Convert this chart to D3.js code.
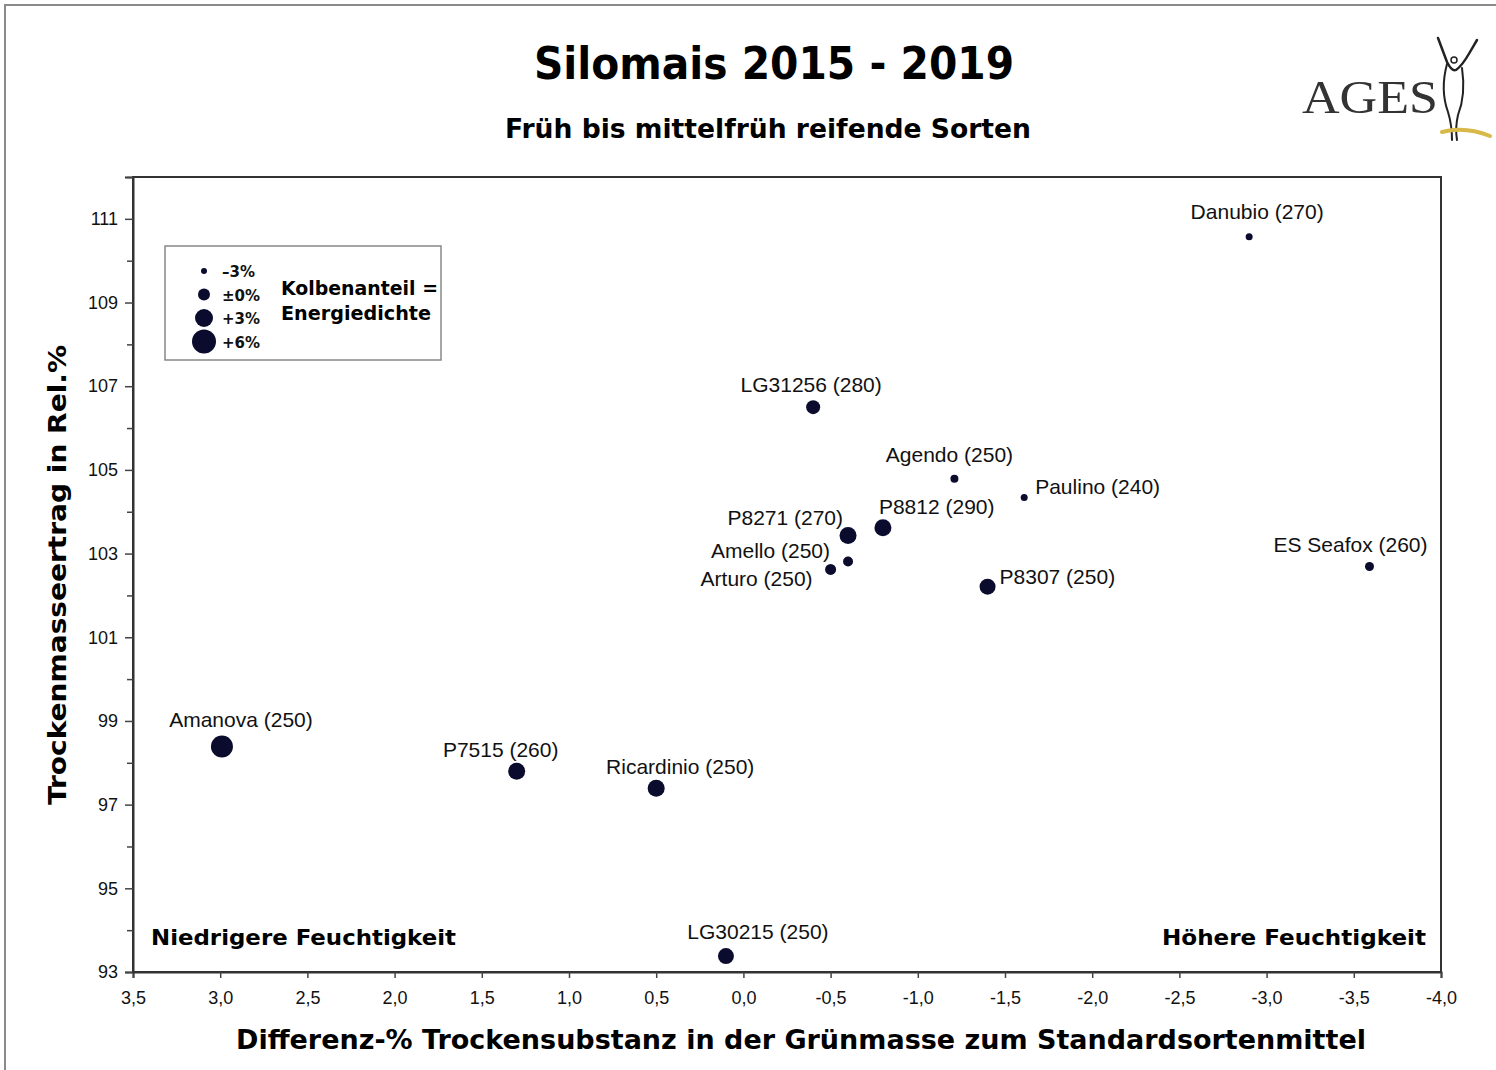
<!DOCTYPE html>
<script src="https://d3js.org/d3.v7.min.js"></script>

<style>
body {margin: 0; background: #fff;}
svg text {font-family: "Liberation Sans", Arial, sans-serif;}
.tick text {font-size: 18px; fill: #111;}
.bold {font-family: Verdana, "DejaVu Sans", sans-serif !important; font-weight: bold;}
.lbl {font-size: 21px; fill: #111;}
</style>

<svg width="1496" height="1070"></svg>

<script>
// Sorten, Reifezahl, Differenz TS-%, Ertrag rel.%, Kolbenanteil
var names = ["Danubio", "LG31256", "Agendo", "Paulino", "P8812", "P8271", "Amello",
             "Arturo", "P8307", "ES Seafox", "Amanova", "P7515", "Ricardinio", "LG30215"];
var fao = [270, 280, 250, 240, 290, 270, 250, 250, 250, 260, 250, 260, 250, 250];
var tsDiff = [-2.90, -0.40, -1.21, -1.61, -0.80, -0.60, -0.60, -0.50, -1.40, -3.59, 2.99, 1.30, 0.50, 0.10];
var ertrag = [110.57, 106.5, 104.79, 104.34, 103.62, 103.43, 102.81, 102.62, 102.21, 102.69, 98.39, 97.80, 97.39, 93.38];
var kolben = [-2.5, 1, -2, -2.5, 2.5, 2.5, -1, -0.5, 2, -1.5, 5, 2.5, 2.5, 2];

var xTicks = d3.range(3.5, -4.01, -0.5);
var yTicks = d3.range(93, 112, 2);
var legendSteps = [-3, 0, 3, 6];
var legendText = ["\u20133%", "\u00b10%", "+3%", "+6%"];

// label placement: anchor, dx, dy (baseline, pixels relative to point)
var labelPos = [
  ["middle", 8, -18], ["middle", -2, -15], ["middle", -5, -17], ["start", 11, -4],
  ["start", -4, -14], ["end", -5, -11], ["end", -18, -4], ["end", -18, 17],
  ["start", 12, -3], ["middle", -19, -15], ["middle", 19, -19], ["middle", -16, -14],
  ["middle", 24, -14], ["middle", 32, -17]
];

var svg = d3.select("svg");
var m = {left: 133, top: 177, right: 1441, bottom: 972};

var x = d3.scaleLinear().domain([3.5, -4]).range([m.left, m.right]);
var y = d3.scaleLinear().domain([93, 112]).range([m.bottom, m.top]);
var r = d3.scaleLinear().domain([-3, 6]).range([3, 12]);

// outer frame
svg.append("rect").attr("x", 5).attr("y", 5).attr("width", 1520).attr("height", 1100)
  .attr("fill", "none").attr("stroke", "#8a8a8a").attr("stroke-width", 2);

// titles
svg.append("text").attr("class", "bold").attr("x", 774).attr("y", 79)
  .attr("text-anchor", "middle").attr("font-size", 44)
  .attr("textLength", 480).attr("lengthAdjust", "spacingAndGlyphs")
  .text("Silomais 2015 - 2019");
svg.append("text").attr("class", "bold").attr("x", 768).attr("y", 138)
  .attr("text-anchor", "middle").attr("font-size", 27)
  .attr("textLength", 526).attr("lengthAdjust", "spacingAndGlyphs")
  .text("Früh bis mittelfrüh reifende Sorten");

// AGES logo
svg.append("text").attr("x", 1302).attr("y", 113)
  .style("font-family", "'Liberation Serif', 'DejaVu Serif', serif")
  .attr("font-size", 47).attr("fill", "#333")
  .attr("textLength", 136).attr("lengthAdjust", "spacingAndGlyphs").text("AGES");
var logo = svg.append("g").attr("fill", "none").attr("stroke", "#222").attr("stroke-linecap", "round");
logo.append("path").attr("stroke-width", 2.5)
  .attr("d", "M1438,38 L1447,62 Q1452,72 1456,70 Q1462,66 1470,52 L1477,40");
logo.append("path").attr("stroke-width", 2)
  .attr("d", "M1447,64 Q1440,90 1448,112 Q1452,125 1452,140 M1462,68 Q1466,95 1458,115 Q1455,128 1457,140");
logo.append("circle").attr("cx", 1454).attr("cy", 60).attr("r", 3).attr("stroke-width", 1.5);
logo.append("path").attr("stroke", "#d9b84a").attr("stroke-width", 4)
  .attr("d", "M1442,132 Q1465,126 1490,136");

// plot frame
svg.append("rect").attr("x", m.left).attr("y", m.top)
  .attr("width", m.right - m.left).attr("height", m.bottom - m.top)
  .attr("fill", "none").attr("stroke", "#333").attr("stroke-width", 2);

// axes
var fmt = function(d) { return d3.format(".1f")(d).replace(".", ",").replace("\u2212", "-"); };
var xAxis = svg.append("g").attr("transform", "translate(0," + m.bottom + ")")
  .call(d3.axisBottom(x).tickValues(xTicks).tickFormat(fmt).tickSize(6).tickPadding(13));
var yAxis = svg.append("g").attr("transform", "translate(" + m.left + ",0)")
  .call(d3.axisLeft(y).tickValues(yTicks).tickFormat(d3.format("d")).tickSize(8).tickPadding(7));
svg.append("g").attr("transform", "translate(" + m.left + ",0)")
  .call(d3.axisLeft(y).tickValues(d3.range(94, 113, 2)).tickFormat("").tickSize(6))
  .select(".domain").remove();
svg.selectAll(".domain").attr("stroke", "#333").attr("stroke-width", 2);
svg.selectAll(".tick line").attr("stroke", "#444").attr("stroke-width", 1.5);
yAxis.selectAll(".tick text").attr("font-size", 17);

// axis titles
svg.append("text").attr("class", "bold").attr("x", 801).attr("y", 1049)
  .attr("text-anchor", "middle").attr("font-size", 26)
  .attr("textLength", 1130).attr("lengthAdjust", "spacingAndGlyphs")
  .text("Differenz-% Trockensubstanz in der Grünmasse zum Standardsortenmittel");
svg.append("text").attr("class", "bold")
  .attr("transform", "translate(66,575) rotate(-90)")
  .attr("text-anchor", "middle").attr("font-size", 25)
  .attr("textLength", 460).attr("lengthAdjust", "spacingAndGlyphs")
  .text("Trockenmasseertrag in Rel.%");

// corner notes
svg.append("text").attr("class", "bold").attr("x", 151).attr("y", 945)
  .attr("font-size", 22).attr("textLength", 305).attr("lengthAdjust", "spacingAndGlyphs")
  .text("Niedrigere Feuchtigkeit");
svg.append("text").attr("class", "bold").attr("x", 1426).attr("y", 945)
  .attr("text-anchor", "end").attr("font-size", 22)
  .attr("textLength", 264).attr("lengthAdjust", "spacingAndGlyphs")
  .text("Höhere Feuchtigkeit");

// points
var pts = svg.append("g").selectAll("g").data(names).enter().append("g")
  .attr("transform", function(d, i) { return "translate(" + x(tsDiff[i]) + "," + y(ertrag[i]) + ")"; });
pts.append("circle").attr("r", function(d, i) { return r(kolben[i]); }).attr("fill", "#0b0b2e");
pts.append("text").attr("class", "lbl")
  .attr("text-anchor", function(d, i) { return labelPos[i][0]; })
  .attr("x", function(d, i) { return labelPos[i][1]; })
  .attr("y", function(d, i) { return labelPos[i][2]; })
  .text(function(d, i) { return d + " (" + fao[i] + ")"; });

// legend
var lg = svg.append("g").attr("transform", "translate(165,246)");
lg.append("rect").attr("width", 276).attr("height", 114)
  .attr("fill", "#fff").attr("stroke", "#888").attr("stroke-width", 1.5);
var li = lg.selectAll(".li").data(legendSteps).enter().append("g")
  .attr("transform", function(d, i) { return "translate(39," + (25 + i * 23.5) + ")"; });
li.append("circle").attr("r", function(d) { return r(d); }).attr("fill", "#0b0b2e");
li.append("text").attr("class", "bold").attr("x", 18).attr("y", 6)
  .attr("font-size", 15).attr("fill", "#111")
  .text(function(d, i) { return legendText[i]; });
lg.append("text").attr("class", "bold").attr("x", 116).attr("y", 49)
  .attr("font-size", 19).attr("textLength", 157).attr("lengthAdjust", "spacingAndGlyphs")
  .text("Kolbenanteil =");
lg.append("text").attr("class", "bold").attr("x", 116).attr("y", 74)
  .attr("font-size", 19).attr("textLength", 150).attr("lengthAdjust", "spacingAndGlyphs")
  .text("Energiedichte");
</script>
